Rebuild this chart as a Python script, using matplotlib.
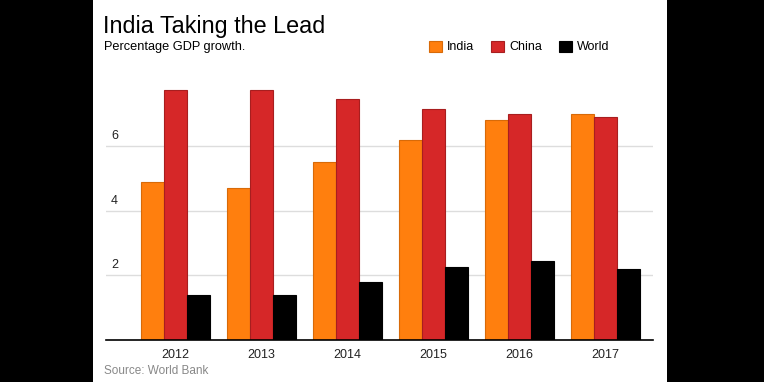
import matplotlib
matplotlib.use("Agg")
import matplotlib.pyplot as plt
import matplotlib.transforms as mtransforms
from matplotlib.patches import Rectangle
import numpy as np

years = ["2012", "2013", "2014", "2015", "2016", "2017"]
india = [4.9, 4.7, 5.5, 6.2, 6.8, 7.0]
china = [7.75, 7.75, 7.45, 7.15, 7.0, 6.9]
world = [1.4, 1.4, 1.8, 2.25, 2.45, 2.2]
series_names = ["India", "China", "World"]
yticks = [2, 4, 6]

colors = ["#ff7f0e", "#d62728", "#000000"]
edges = ["#d86a08", "#a81e1f", "#000000"]

plt.rcParams['font.family'] = ['Liberation Sans', 'DejaVu Sans']

fig = plt.figure(figsize=(7.64, 3.82), dpi=100)
fig.patch.set_facecolor("white")

# black side borders
fig.patches.append(Rectangle((0, 0), 93/764, 1, transform=fig.transFigure,
                             facecolor="black", edgecolor="none", zorder=-1))
fig.patches.append(Rectangle((667/764, 0), 1 - 667/764, 1, transform=fig.transFigure,
                             facecolor="black", edgecolor="none", zorder=-1))

ax = fig.add_axes([105.7/764, 1 - 340/382, (653 - 105.7)/764, (340 - 81.6)/382])
x = np.arange(len(years))
w = 0.265
for i, (vals, name) in enumerate(zip([india, china, world], series_names)):
    ax.bar(x + (i - 1) * w, vals, width=w, color=colors[i], edgecolor=edges[i],
           linewidth=0.8, label=name, zorder=3)

ax.set_xlim(-0.81, 5.55)
ax.set_ylim(0, 8)
ax.set_xticks(x)
ax.set_xticklabels(years, fontsize=9, color="#222222")
ax.tick_params(axis='x', length=0, pad=6.5)
ax.set_yticks(yticks)
ax.set_yticklabels([])
ax.tick_params(axis='y', length=0)
ax.grid(axis='y', color="#dddddd", linewidth=1.0, zorder=0)
ax.grid(axis='x', visible=False)
for s in ["top", "right", "left"]:
    ax.spines[s].set_visible(False)
ax.spines["bottom"].set_linewidth(1.2)
ax.spines["bottom"].set_color("black")
ax.spines["bottom"].set_zorder(4)

trans = mtransforms.blended_transform_factory(ax.transAxes, ax.transData)
trans = trans + mtransforms.ScaledTranslation(0, 0.07, fig.dpi_scale_trans)
for v in yticks:
    ax.text(5.3/547.3, v, str(v), transform=trans, ha='left', va='baseline',
            fontsize=9, color="#222222")

fig.text(103/764, 1 - 33/382, "India Taking the Lead", fontsize=16.8,
         ha='left', va='baseline', color="black")
fig.text(104/764, 1 - 50/382, "Percentage GDP growth.", fontsize=9.2,
         ha='left', va='baseline', color="black")
fig.text(104/764, 1 - 374/382, "Source: World Bank", fontsize=8.5,
         ha='left', va='baseline', color="#888888")

fig.legend(loc='center left', bbox_to_anchor=(429/764, 1 - 47/382), ncol=3,
           frameon=False, fontsize=9, handlelength=1.0, handleheight=1.0,
           handletextpad=0.45, columnspacing=1.35, borderpad=0, borderaxespad=0)

fig.savefig("out.png", dpi=100, facecolor="white")
